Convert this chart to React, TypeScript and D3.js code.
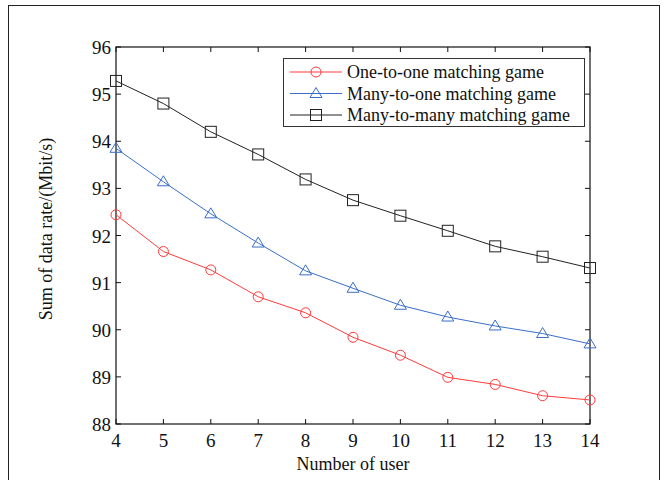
import React from "react";
import * as d3 from "d3";

const users = [4, 5, 6, 7, 8, 9, 10, 11, 12, 13, 14];
const oneToOne = [92.44, 91.66, 91.27, 90.7, 90.36, 89.84, 89.46, 88.99, 88.84, 88.6, 88.51];
const manyToOne = [93.85, 93.14, 92.46, 91.84, 91.25, 90.88, 90.52, 90.27, 90.08, 89.92, 89.7];
const manyToMany = [95.28, 94.8, 94.2, 93.72, 93.19, 92.75, 92.42, 92.1, 91.77, 91.55, 91.31];
const yTicks = [88, 89, 90, 91, 92, 93, 94, 95, 96];
const seriesNames = ["One-to-one matching game", "Many-to-one matching game", "Many-to-many matching game"];
const seriesColors = ["#ff3b3b", "#3a6fc8", "#222222"];
const seriesMarkers = ["circle", "triangle", "square"];

const W = 672, H = 480;
const m = { left: 116, right: 590, top: 47, bottom: 424 };
const font = "Liberation Serif, Times New Roman, Tinos, DejaVu Serif, serif";

function Marker({ type, x, y, color }: { type: string; x: number; y: number; color: string }) {
  if (type === "circle") return <circle cx={x} cy={y} r={5} fill="none" stroke={color} strokeWidth={1} />;
  if (type === "triangle")
    return <path d={`M${x},${y - 6}L${x + 6},${y + 4}L${x - 6},${y + 4}Z`} fill="none" stroke={color} strokeWidth={1} />;
  return <rect x={x - 5.5} y={y - 5.5} width={11} height={11} fill="none" stroke={color} strokeWidth={1} />;
}

export default function App() {
  const x = d3.scaleLinear().domain([4, 14]).range([m.left, m.right]);
  const y = d3.scaleLinear().domain([88, 96]).range([m.bottom, m.top]);
  const data = [oneToOne, manyToOne, manyToMany];
  const line = d3.line<number>().x((_, i) => x(users[i])).y((d) => y(d));
  const tl = 5;
  return (
    <svg width={W} height={H} style={{ position: "absolute", left: 0, top: 0, fontFamily: font }}>
      <rect x={0} y={0} width={W} height={H} fill="#fff" />
      <rect x={8.5} y={5.5} width={651} height={500} fill="none" stroke="#222" strokeWidth={1} />
      {users.map((u) => (
        <g key={"xt" + u}>
          <line x1={x(u)} x2={x(u)} y1={m.bottom} y2={m.bottom - tl} stroke="#111" />
          <line x1={x(u)} x2={x(u)} y1={m.top} y2={m.top + tl} stroke="#111" />
          <text x={x(u)} y={m.bottom + 23} textAnchor="middle" fontSize={19} fill="#111" style={{ fontFamily: font }}>{u}</text>
        </g>
      ))}
      {yTicks.map((t) => (
        <g key={"yt" + t}>
          <line x1={m.left} x2={m.left + tl} y1={y(t)} y2={y(t)} stroke="#111" />
          <line x1={m.right} x2={m.right - tl} y1={y(t)} y2={y(t)} stroke="#111" />
          <text x={m.left - 5} y={y(t) + 7} textAnchor="end" fontSize={19} fill="#111" style={{ fontFamily: font }}>{t}</text>
        </g>
      ))}
      <rect x={m.left} y={m.top} width={m.right - m.left} height={m.bottom - m.top} fill="none" stroke="#111" strokeWidth={1.2} />
      {data.map((s, k) => (
        <g key={"s" + k}>
          <path d={line(s) || ""} fill="none" stroke={seriesColors[k]} strokeWidth={1} />
          {s.map((v, i) => (
            <Marker key={i} type={seriesMarkers[k]} x={x(users[i])} y={y(v)} color={seriesColors[k]} />
          ))}
        </g>
      ))}
      <rect x={283.5} y={58.5} width={301} height={68} fill="#fff" stroke="#333" strokeWidth={1} />
      {seriesNames.map((n, k) => {
        const ly = 72 + k * 21.5;
        return (
          <g key={"l" + k}>
            <line x1={290} x2={342} y1={ly} y2={ly} stroke={seriesColors[k]} />
            <Marker type={seriesMarkers[k]} x={316} y={ly} color={seriesColors[k]} />
            <text x={347} y={ly + 6} fontSize={18} fill="#111" style={{ fontFamily: font }}>{n}</text>
          </g>
        );
      })}
      <text x={(m.left + m.right) / 2} y={470} textAnchor="middle" fontSize={18} fill="#111" style={{ fontFamily: font }}>Number of user</text>
      <text transform={`translate(52,229) rotate(-90)`} textAnchor="middle" fontSize={18} fill="#111" style={{ fontFamily: font }}>
        Sum of data rate/(Mbit/s)
      </text>
    </svg>
  );
}
